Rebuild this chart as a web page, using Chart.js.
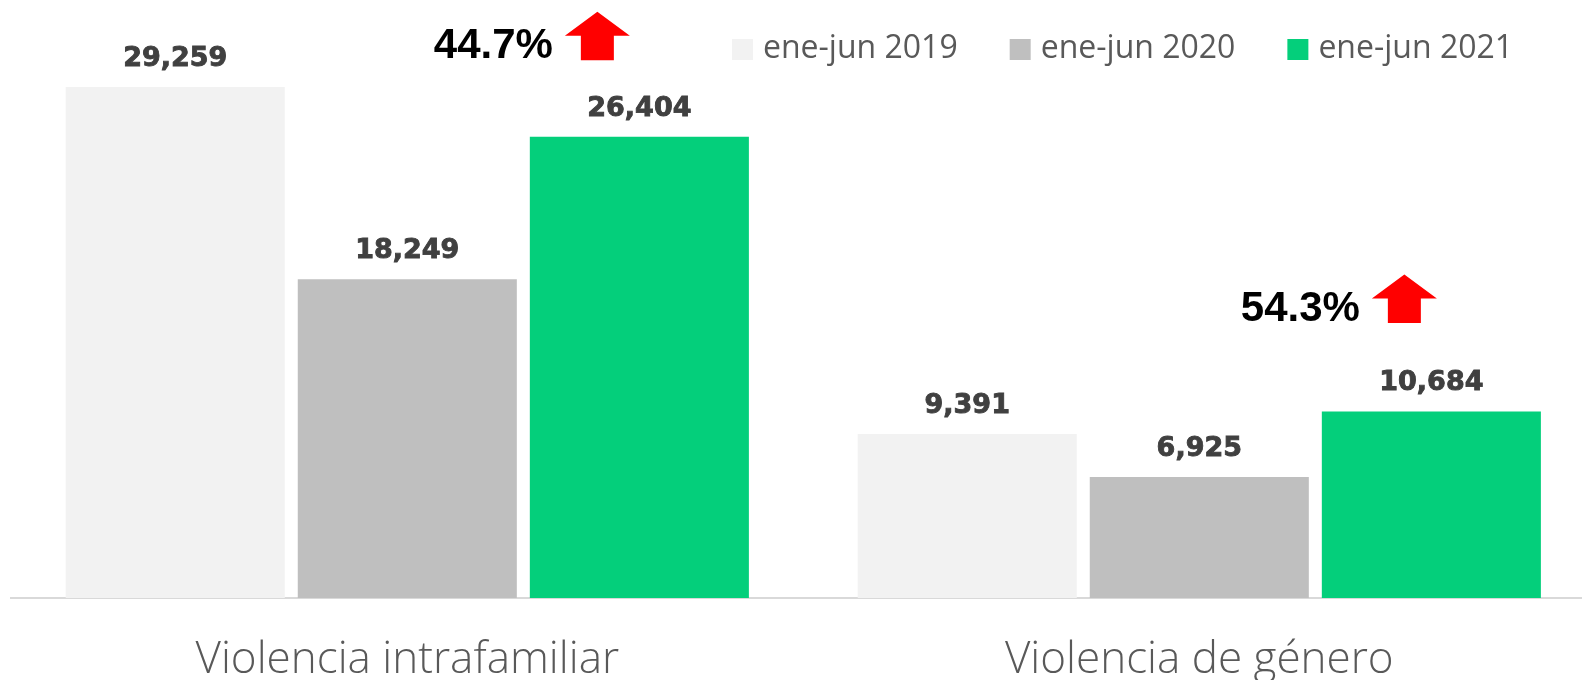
<!DOCTYPE html>
<html lang="es">
<head>
<meta charset="utf-8">
<title>Violencia intrafamiliar y de género</title>
<script src="https://cdn.jsdelivr.net/npm/chart.js@4.4.1/dist/chart.umd.min.js"></script>
<style>
    html, body { margin: 0; padding: 0; background: #fff; overflow: hidden; }
    #chart-wrap { position: relative; width: 1600px; height: 680px; }
</style>
</head>
<body>
<div id="chart-wrap"><canvas id="bar-chart"></canvas></div>
<script>
const categories = ["Violencia intrafamiliar", "Violencia de género"];
const seriesLabels = ["ene-jun 2019", "ene-jun 2020", "ene-jun 2021"];
const values2019 = [29259, 9391];
const values2020 = [18249, 6925];
const values2021 = [26404, 10684];
const changeLabels = ["44.7%", "54.3%"];

const COLORS = ["#f2f2f2", "#bfbfbf", "#04cf7b"];

// offsets of the "+x%" note from the top of the 2021 bar
const NOTE_OFFSETS = [
    { dx: -42, tipDy: -125, textDy: -79 },
    { dx: -27, tipDy: -137, textDy: -90 },
];

// value labels over every bar
const valueLabels = {
    id: "valueLabels",
    afterDatasetsDraw(chart) {
        const ctx = chart.ctx;
        ctx.save();
        ctx.font = "bold 27px 'DejaVu Sans'";
        ctx.fillStyle = "#404040";
        ctx.strokeStyle = "#404040";
        ctx.lineWidth = 0.9;
        ctx.textAlign = "center";
        ctx.textBaseline = "alphabetic";
        chart.data.datasets.forEach((ds, di) => {
            chart.getDatasetMeta(di).data.forEach((bar, i) => {
                const txt = ds.data[i].toLocaleString("en-US");
                ctx.fillText(txt, bar.x, bar.y - 21);
                ctx.strokeText(txt, bar.x, bar.y - 21);
            });
        });
        ctx.restore();
    },
};

// red arrow + percentage over the 2021 bars
const changeNotes = {
    id: "changeNotes",
    afterDraw(chart) {
        const ctx = chart.ctx;
        const bars = chart.getDatasetMeta(2).data;
        ctx.save();
        bars.forEach((bar, i) => {
            const off = NOTE_OFFSETS[i];
            const cx = bar.x + off.dx;
            const tip = bar.y + off.tipDy;
            ctx.fillStyle = "#ff0000";
            ctx.beginPath();
            ctx.moveTo(cx, tip);
            ctx.lineTo(cx + 32.5, tip + 24);
            ctx.lineTo(cx + 16.5, tip + 24);
            ctx.lineTo(cx + 16.5, tip + 48.5);
            ctx.lineTo(cx - 16.5, tip + 48.5);
            ctx.lineTo(cx - 16.5, tip + 24);
            ctx.lineTo(cx - 32.5, tip + 24);
            ctx.closePath();
            ctx.fill();

            ctx.fillStyle = "#000";
            ctx.font = "bold 42px 'Liberation Sans'";
            ctx.textAlign = "right";
            ctx.textBaseline = "alphabetic";
            ctx.fillText(changeLabels[i], cx - 44.5, bar.y + off.textDy);
        });
        ctx.restore();
    },
};

// legend drawn by hand so it does not take room from the chart area
const topLegend = {
    id: "topLegend",
    afterDraw(chart) {
        const ctx = chart.ctx;
        let x = 732;
        ctx.save();
        ctx.font = "32px 'Open Sans'";
        ctx.textAlign = "left";
        ctx.textBaseline = "alphabetic";
        chart.data.datasets.forEach((ds) => {
            ctx.fillStyle = ds.backgroundColor;
            ctx.fillRect(x, 39, 21, 21);
            ctx.fillStyle = "#595959";
            ctx.fillText(ds.label, x + 31, 58);
            x += 31 + ctx.measureText(ds.label).width + 52;
        });
        ctx.restore();
    },
};

const datasets = [values2019, values2020, values2021].map((values, i) => ({
    label: seriesLabels[i],
    data: values,
    backgroundColor: COLORS[i],
    categoryPercentage: 0.879,
    barPercentage: 0.944,
}));

new Chart(document.getElementById("bar-chart"), {
    type: "bar",
    data: { labels: categories, datasets: datasets },
    options: {
        responsive: true,
        maintainAspectRatio: false,
        animation: false,
        layout: { padding: { left: 11.3, right: 4.7, top: 56.6, bottom: 0 } },
        plugins: {
            legend: { display: false },
            tooltip: { enabled: false },
        },
        scales: {
            x: {
                z: 1,
                grid: { display: false, drawTicks: false },
                border: { display: true, color: "#d9d9d9", width: 2 },
                ticks: {
                    padding: 36,
                    color: "#595959",
                    font: { family: "'Open Sans'", size: 44, weight: 350 },
                },
                afterFit: (scale) => {
                    scale.height = 82;
                },
            },
            y: {
                display: false,
                min: 0,
                max: 31000,
            },
        },
    },
    plugins: [valueLabels, changeNotes, topLegend],
});
</script>
</body>
</html>
